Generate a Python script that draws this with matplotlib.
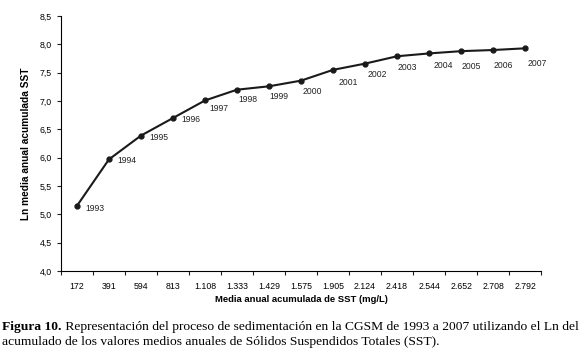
import numpy as np
import matplotlib.pyplot as plt

# datos
anios = ['1993', '1994', '1995', '1996', '1997', '1998', '1999', '2000',
         '2001', '2002', '2003', '2004', '2005', '2006', '2007']
sst_acum = ['172', '391', '594', '813', '1.108', '1.333', '1.429', '1.575',
            '1.905', '2.124', '2.418', '2.544', '2.652', '2.708', '2.792']
ln_sst = [5.15, 5.97, 6.39, 6.70, 7.01, 7.20, 7.26, 7.36,
          7.55, 7.66, 7.79, 7.84, 7.88, 7.90, 7.93]

# desplazamiento de las etiquetas (puntos)
offs = [(6, -2), (6, -1), (6, -1), (6, -1), (3, -6), (1, -7), (0, -7), (1, -8),
        (4, -9), (2, -8), (0, -8), (3, -9), (0, -11), (0, -11), (2, -11)]

plt.rcParams['font.family'] = ['Liberation Sans', 'DejaVu Sans']

fig = plt.figure(figsize=(5.8, 3.48), dpi=100)
ax = fig.add_axes([0.105, 0.221, 0.828, 0.733])

x = np.arange(len(anios))
ax.plot(x, ln_sst, color='#1a1a1a', lw=1.5, marker='o', ms=3.5)

for i, a in enumerate(anios):
    ax.annotate(a, (x[i], ln_sst[i]), xytext=offs[i], textcoords='offset points',
                fontsize=6.2, va='center', ha='left', color='#222222')

ax.set_xlim(-0.5, len(anios) - 0.5)
ax.set_ylim(4.0, 8.5)
ax.set_yticks(np.arange(4.0, 8.51, 0.5))
ax.set_yticklabels([f'{v:.1f}'.replace('.', ',') for v in np.arange(4.0, 8.51, 0.5)])
ax.set_xticks(np.arange(-0.5, len(anios), 1.0))
ax.set_xticklabels([])
ax.set_xticks(x, minor=True)
ax.set_xticklabels(sst_acum, minor=True)
ax.tick_params(axis='x', which='minor', length=0, pad=8)
ax.tick_params(axis='both', which='major', length=3, width=0.8, labelsize=6.3,
               direction='out', color='#222222')
ax.tick_params(axis='x', which='minor', labelsize=6.3)

for s in ['top', 'right']:
    ax.spines[s].set_visible(False)
for s in ['left', 'bottom']:
    ax.spines[s].set_linewidth(0.8)

ax.set_xlabel('Media anual acumulada de SST (mg/L)', fontsize=6.8, fontweight='bold', labelpad=3)
ax.set_ylabel('Ln media anual acumulada SST', fontsize=7.3, fontweight='bold', labelpad=6)

# pie de figura
fs = 9.7
t1 = fig.text(0.004, 0.053, 'Figura 10.', fontsize=fs, family='Liberation Serif',
              fontweight='bold', va='baseline')
ax.annotate(' Representación del proceso de sedimentación en la CGSM de 1993 a 2007 utilizando el Ln del',
            xy=(1, 0), xycoords=t1, va='bottom', ha='left', fontsize=fs,
            family='Liberation Serif', annotation_clip=False)
fig.text(0.004, 0.009, 'acumulado de los valores medios anuales de Sólidos Suspendidos Totales (SST).',
         fontsize=fs, family='Liberation Serif', va='baseline')

fig.savefig('out.png', dpi=100)
